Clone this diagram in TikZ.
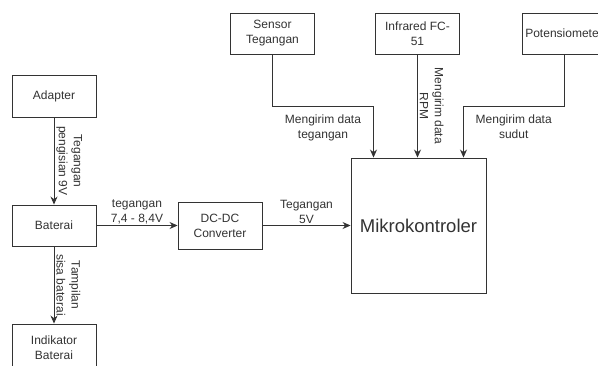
\documentclass[tikz,border=0pt]{standalone}
\usepackage{fontspec}
\setmainfont{Liberation Sans}
\usepackage{tikz}
\usetikzlibrary{arrows.meta,calc}
\definecolor{ink}{HTML}{333333}
\tikzstyle{block} = [rectangle, minimum width=84pt, minimum height=42pt, inner sep=0pt, text centered, align=center, draw=ink, text=ink, line width=0.9pt, font=\fontsize{12}{15}\selectfont]
\tikzstyle{arrow} = [draw=ink, line width=0.9pt, -{Stealth[length=8pt,width=7pt]}]
\tikzstyle{lbl} = [text=ink, align=center, inner sep=2pt, font=\fontsize{12}{15}\selectfont]

\begin{document}
\begin{tikzpicture}[x=1pt, y=-1pt]
\clip (0,0) rectangle (598,365);
\fill[white] (0,0) rectangle (598,365);
% left column
\node (adapter) [block] at (54,96) {Adapter};
\node (baterai) [block, minimum height=41pt] at (54,225.5) {Baterai};
\node (indikator) [block, minimum height=48pt] at (54,348) {Indikator\\Baterai};
\node (dcdc) [block, minimum height=47pt] at (220,225.5) {DC-DC\\Converter};
\node (mikro) [block, minimum width=135pt, minimum height=135pt, font=\fontsize{18.5}{22}\selectfont] at (418.5,225.5) {Mikrokontroler};
% sensors on top
\node (sensor) [block, minimum height=41pt] at (272.5,33.5) {Sensor\\Tegangan};
\node (infrared) [block, minimum height=41pt] at (417.5,33.5) {Infrared FC-\\51};
\node (poten) [block, minimum height=41pt] at (564,33.5) {Potensiometer};
% connectors
\draw [arrow] (adapter) -- node[lbl, rotate=-90, anchor=south] {Tegangan\\pengisian 9V} (baterai);
\draw [arrow] (baterai) -- node[lbl, rotate=-90, anchor=south] {Tampilan\\sisa baterai} (indikator);
\draw [arrow] (baterai) -- node[lbl, above, yshift=-1pt] {tegangan\\7,4 - 8,4V} (dcdc);
\draw [arrow] (dcdc) -- node[lbl, above, yshift=-1pt] {Tegangan\\5V} (mikro);
\draw [arrow] (sensor.south) -- ++(0,52) -| node[lbl, pos=0.25, below, yshift=-6pt] {Mengirim data\\tegangan} ([xshift=-45pt]mikro.north);
\draw [arrow] (infrared.south) -- node[lbl, rotate=-90, anchor=south] {Mengirim data\\RPM} (infrared.south |- mikro.north);
\draw [arrow] (poten.south) -- ++(0,52) -| node[lbl, pos=0.25, below, yshift=-6pt] {Mengirim data\\sudut} ([xshift=45pt]mikro.north);
\end{tikzpicture}
\end{document}
